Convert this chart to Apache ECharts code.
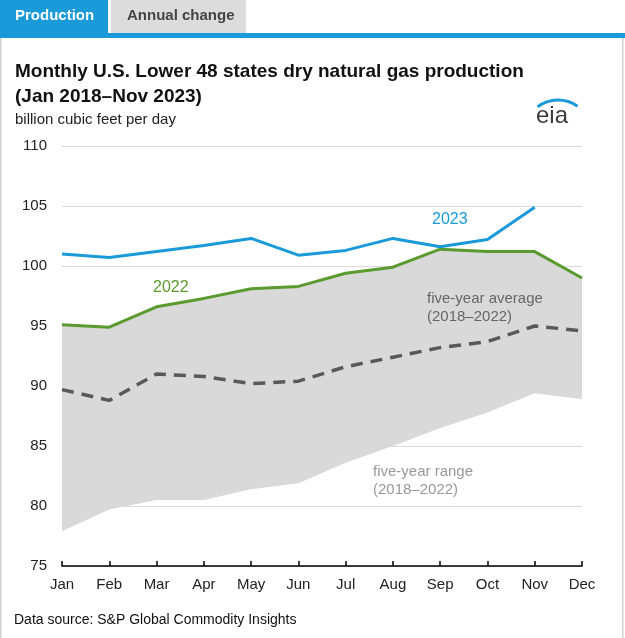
<!DOCTYPE html>
<html>
<head>
<meta charset="utf-8">
<script src="https://cdn.jsdelivr.net/npm/echarts@6/dist/echarts.min.js"></script>
<style>
html,body{margin:0;padding:0;background:#fff;}
#chart{width:625px;height:638px;}
</style>
</head>
<body>
<div id="chart"></div>
<script>
const months = ['Jan','Feb','Mar','Apr','May','Jun','Jul','Aug','Sep','Oct','Nov','Dec'];
const yTicks = [75, 80, 85, 90, 95, 100, 105, 110];
const prod2023 = [101.0, 100.7, 101.2, 101.7, 102.3, 100.9, 101.3, 102.3, 101.6, 102.2, 104.9, null];
const prod2022 = [95.1, 94.9, 96.6, 97.3, 98.1, 98.3, 99.4, 99.9, 101.4, 101.2, 101.2, 99.0];
const avg5yr = [89.7, 88.8, 91.0, 90.8, 90.2, 90.4, 91.6, 92.4, 93.2, 93.7, 95.0, 94.6];
const rangeMin = [77.9, 79.7, 80.5, 80.5, 81.4, 81.9, 83.6, 85.0, 86.5, 87.8, 89.4, 88.9];
const rangeMax = [95.1, 94.9, 96.6, 97.3, 98.1, 98.3, 99.4, 99.9, 101.4, 101.2, 101.2, 99.0];

const rangeSpan = rangeMax.map((v, i) => +(v - rangeMin[i]).toFixed(2));
const FONT = '"Liberation Sans", Arial, sans-serif';
const deg = Math.PI / 180;

const chart = echarts.init(document.getElementById('chart'), null, {renderer: 'canvas'});
chart.setOption({
  animation: false,
  textStyle: {fontFamily: FONT},
  grid: {left: 62, right: 43, top: 146, bottom: 72, containLabel: false},
  xAxis: {
    type: 'category',
    data: months,
    boundaryGap: false,
    axisLine: {lineStyle: {color: '#000', width: 1.5}},
    axisTick: {inside: true, length: 5, lineStyle: {color: '#000', width: 1.5}, alignWithLabel: true},
    axisLabel: {color: '#222', fontSize: 15, margin: 11, fontFamily: FONT},
    splitLine: {show: false}
  },
  yAxis: {
    type: 'value',
    min: yTicks[0],
    max: yTicks[yTicks.length - 1],
    interval: 5,
    axisLine: {show: false},
    axisTick: {show: false},
    axisLabel: {color: '#222', fontSize: 15, margin: 15, fontFamily: FONT},
    splitLine: {lineStyle: {color: '#d9d9d9', width: 1}}
  },
  series: [
    {
      name: 'rangeBase', type: 'line', data: rangeMin, stack: 'range',
      symbol: 'none', lineStyle: {opacity: 0}, areaStyle: {opacity: 0}, silent: true, z: 1
    },
    {
      name: 'five-year range', type: 'line', data: rangeSpan, stack: 'range',
      symbol: 'none', lineStyle: {opacity: 0}, areaStyle: {color: '#d9d9d9', opacity: 1}, silent: true, z: 1
    },
    {
      name: 'five-year average', type: 'line', data: avg5yr, symbol: 'none', z: 3,
      lineStyle: {color: '#595959', width: 3.5, type: [12, 8]}
    },
    {
      name: '2022', type: 'line', data: prod2022, symbol: 'none', z: 4,
      lineStyle: {color: '#5b9a2f', width: 3}
    },
    {
      name: '2023', type: 'line', data: prod2023, symbol: 'none', z: 5,
      lineStyle: {color: '#1a9ad8', width: 3}
    }
  ],
  graphic: {elements: [
    // tabs
    {id: 'tab1', type: 'rect', shape: {x: 0, y: 0, width: 108, height: 34}, style: {fill: '#1a9ad8'}},
    {id: 'tab1t', type: 'text', x: 15, y: 8, style: {text: 'Production', fill: '#fff', font: 'bold 15px ' + FONT}},
    {id: 'tab2', type: 'rect', shape: {x: 111, y: 0, width: 135, height: 34}, style: {fill: '#dcdcdc'}},
    {id: 'tab2t', type: 'text', x: 127, y: 8, style: {text: 'Annual change', fill: '#444', font: 'bold 15px ' + FONT}},
    {id: 'bar', type: 'rect', shape: {x: 0, y: 33, width: 625, height: 5}, style: {fill: '#1a9ad8'}},
    // borders
    {id: 'bl', type: 'rect', shape: {x: 0, y: 38, width: 1.5, height: 600}, style: {fill: '#d0d0d0'}},
    {id: 'br', type: 'rect', shape: {x: 622, y: 38, width: 1.5, height: 600}, style: {fill: '#d0d0d0'}},
    // titles
    {id: 't1', type: 'text', x: 15, y: 62, style: {text: 'Monthly U.S. Lower 48 states dry natural gas production', fill: '#111', font: 'bold 19px ' + FONT}},
    {id: 't2', type: 'text', x: 15, y: 87, style: {text: '(Jan 2018\u2013Nov 2023)', fill: '#111', font: 'bold 19px ' + FONT}},
    {id: 't3', type: 'text', x: 15, y: 112, style: {text: 'billion cubic feet per day', fill: '#222', font: '15px ' + FONT}},
    // eia logo
    {id: 'eia', type: 'text', x: 536, y: 104, style: {text: 'eia', fill: '#3a3a3a', font: '24px ' + FONT}},
    {id: 'arc', type: 'arc', shape: {cx: 558, cy: 134, r: 34, startAngle: -127 * deg, endAngle: -55 * deg, clockwise: true}, style: {stroke: '#1a9ad8', lineWidth: 3, fill: null}},
    // annotations
    {id: 'l23', type: 'text', x: 432, y: 212, z: 100, style: {text: '2023', fill: '#1a9ad8', font: '16px ' + FONT}},
    {id: 'l22', type: 'text', x: 153, y: 280, z: 100, style: {text: '2022', fill: '#5b9a2f', font: '16px ' + FONT}},
    {id: 'lavg', type: 'text', x: 427, y: 290, z: 100, style: {text: 'five-year average\n(2018\u20132022)', fill: '#666', font: '15px ' + FONT, lineHeight: 18}},
    {id: 'lrng', type: 'text', x: 373, y: 463, z: 100, style: {text: 'five-year range\n(2018\u20132022)', fill: '#999', font: '15px ' + FONT, lineHeight: 18}},
    // source
    {id: 'src', type: 'text', x: 14, y: 613, style: {text: 'Data source: S&P Global Commodity Insights', fill: '#111', font: '14px ' + FONT}}
  ]}
});
</script>
</body>
</html>
